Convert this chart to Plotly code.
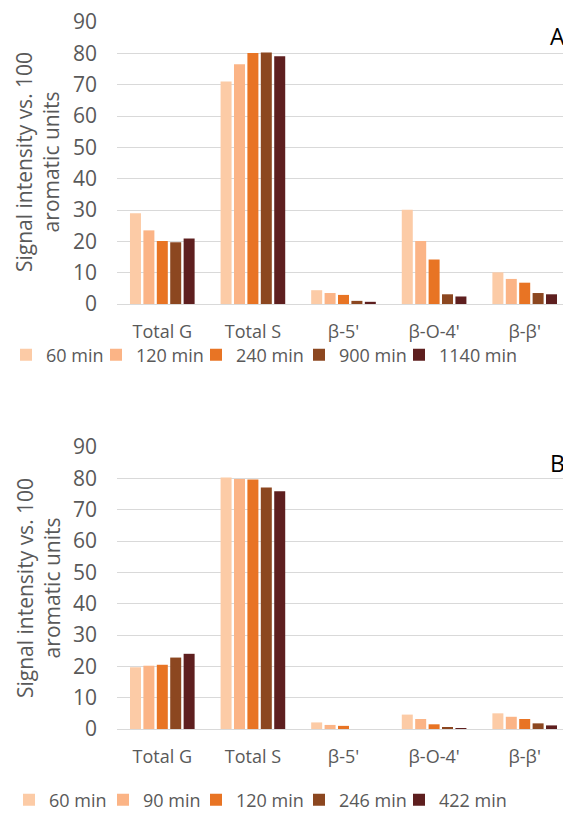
import plotly.graph_objects as go

categories = ["Total G", "Total S", "β-5'", "β-O-4'", "β-β'"]

series_a_names = ["60 min", "120 min", "240 min", "900 min", "1140 min"]
series_a_values = [
    [29.0, 71.0, 4.4, 30.1, 10.1],
    [23.5, 76.5, 3.5, 20.1, 8.0],
    [20.1, 80.1, 2.9, 14.2, 6.8],
    [19.7, 80.3, 1.0, 3.1, 3.5],
    [20.9, 79.1, 0.7, 2.4, 3.1],
]

series_b_names = ["60 min", "90 min", "120 min", "246 min", "422 min"]
series_b_values = [
    [19.7, 80.3, 2.1, 4.6, 5.0],
    [20.2, 79.8, 1.3, 3.2, 3.9],
    [20.5, 79.6, 1.0, 1.5, 3.2],
    [22.8, 77.1, 0.0, 0.5, 1.8],
    [24.0, 75.9, 0.0, 0.1, 1.15],
]

y_ticks = [0, 10, 20, 30, 40, 50, 60, 70, 80, 90]

colors = ["#FCCBA6", "#FBB486", "#E87424", "#8C4720", "#5E1F1F"]

# page body has an 8px margin; figure is sized to fit the 571x818 window
OX, OY = 8, 8
W, H = 571 - OX, 818 - OY
FONT = "Open Sans"
GRAY = "#595959"

def px(x):
    return (x - OX) / W

def py(y):
    return 1 - (y - OY) / H

# legend entry left edges (pixels in the window) for each panel
leg_a_x = [22, 112, 212, 315, 415]
leg_b_x = [25, 119, 212, 315, 415]
LEG_OFF = 16

fig = go.Figure()
layout_legends = {}
for i, (name, vals) in enumerate(zip(series_a_names, series_a_values)):
    lname = "legend" if i == 0 else f"legend{i + 1}"
    fig.add_trace(go.Bar(x=categories, y=vals, name=name, marker_color=colors[i],
                         xaxis="x", yaxis="y", legend=lname))
    layout_legends[lname] = dict(x=px(leg_a_x[i] - LEG_OFF), y=py(355))
for i, (name, vals) in enumerate(zip(series_b_names, series_b_values)):
    lname = f"legend{i + 6}"
    fig.add_trace(go.Bar(x=categories, y=vals, name=name, marker_color=colors[i],
                         xaxis="x2", yaxis="y2", legend=lname))
    layout_legends[lname] = dict(x=px(leg_b_x[i] - LEG_OFF), y=py(800))

legend_common = dict(orientation="h", xanchor="left", yanchor="middle",
                     font=dict(family=FONT, size=18, color=GRAY), itemwidth=30,
                     bgcolor="rgba(0,0,0,0)", borderwidth=0)
for k, v in layout_legends.items():
    v.update(legend_common)

xdom = [px(117), px(570)]
axis_common_y = dict(range=[0, 90], tickvals=y_ticks, showgrid=True, gridcolor="#D9D9D9",
                     gridwidth=1, zeroline=False, showline=False, ticks="", automargin=False,
                     ticklabeloverflow="allow",
                     tickfont=dict(family=FONT, size=21, color=GRAY), ticklabelstandoff=19)
axis_common_x = dict(showgrid=False, showline=True, linecolor="#D9D9D9", linewidth=1,
                     ticks="", automargin=False, ticklabeloverflow="allow",
                     tickfont=dict(family=FONT, size=18, color=GRAY),
                     ticklabelstandoff=11)

fig.update_layout(
    width=W, height=H,
    template="none",
    margin=dict(l=0, r=0, t=0, b=0, autoexpand=False),
    paper_bgcolor="white", plot_bgcolor="white",
    barmode="group", bargap=0.26, bargroupgap=0.18,
    font=dict(family=FONT, color=GRAY),
    xaxis=dict(domain=xdom, anchor="y", **axis_common_x),
    yaxis=dict(domain=[py(304), py(22)], anchor="x", **axis_common_y),
    xaxis2=dict(domain=xdom, anchor="y2", **axis_common_x),
    yaxis2=dict(domain=[py(729), py(447)], anchor="x2", **axis_common_y),
    showlegend=True,
    **layout_legends,
)

ytitle = "Signal intensity vs. 100<br>aromatic units"
for ycen in [162, 588]:
    fig.add_annotation(text=ytitle, textangle=-90, x=px(38), y=py(ycen), xref="paper", yref="paper",
                       showarrow=False, font=dict(family=FONT, size=21, color=GRAY),
                       xanchor="center", yanchor="middle")

fig.add_annotation(text="A", x=px(557), y=py(36), xref="paper", yref="paper", showarrow=False,
                   font=dict(family=FONT, size=23, color="black"), xanchor="center", yanchor="middle")
fig.add_annotation(text="B", x=px(557), y=py(463), xref="paper", yref="paper", showarrow=False,
                   font=dict(family=FONT, size=23, color="black"), xanchor="center", yanchor="middle")

fig.write_html("out.html")
